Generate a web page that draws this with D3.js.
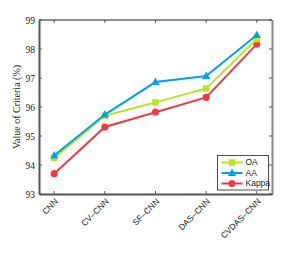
<!DOCTYPE html>
<html>
<head>
<meta charset="utf-8">
<script src="https://cdn.jsdelivr.net/npm/d3@7"></script>
<style>
  body { margin: 0; background: #fff; }
  svg { display: block; }
</style>
</head>
<body>
<svg id="chart"></svg>
<script>
const methods = ['CNN', 'CV–CNN', 'SF–CNN', 'DAS–CNN', 'CVDAS–CNN'];
const oaValues = [94.24, 95.70, 96.16, 96.64, 98.34];
const aaValues = [94.33, 95.74, 96.86, 97.07, 98.48];
const kappaValues = [93.70, 95.31, 95.82, 96.33, 98.17];
const yTicks = [93, 94, 95, 96, 97, 98, 99];

const series = [
  { name: 'OA', values: oaValues, color: '#b5e61d', marker: 'square' },
  { name: 'AA', values: aaValues, color: '#00a2e8', marker: 'triangle' },
  { name: 'Kappa', values: kappaValues, color: '#ee3b48', marker: 'circle' },
];

const width = 300;
const height = 273;
const margin = { top: 20, right: 28, bottom: 79, left: 39 };
const innerW = width - margin.left - margin.right;
const innerH = height - margin.top - margin.bottom;

const svg = d3.select('#chart').attr('width', width).attr('height', height);
const g = svg.append('g').attr('transform', `translate(${margin.left},${margin.top})`);

const x = d3.scalePoint().domain(methods).range([0, innerW]).padding(0.3);
const y = d3.scaleLinear().domain([93, 99]).range([innerH, 0]);

// frame
g.append('line').attr('x1', 0).attr('x2', innerW).attr('y1', 0).attr('y2', 0)
  .attr('stroke', '#222').attr('stroke-width', 1);
g.append('line').attr('x1', innerW + 0.5).attr('x2', innerW + 0.5).attr('y1', 0).attr('y2', innerH + 1)
  .attr('stroke', '#888').attr('stroke-width', 2);

// ticks inside (left, right, top, bottom)
const tickLen = 3;
yTicks.forEach(t => {
  g.append('line').attr('x1', 0).attr('x2', tickLen).attr('y1', y(t)).attr('y2', y(t))
    .attr('stroke', '#333').attr('stroke-width', 0.8);
  g.append('line').attr('x1', innerW - tickLen).attr('x2', innerW).attr('y1', y(t)).attr('y2', y(t))
    .attr('stroke', '#333').attr('stroke-width', 0.8);
});
methods.forEach(m => {
  g.append('line').attr('x1', x(m)).attr('x2', x(m)).attr('y1', 0).attr('y2', tickLen)
    .attr('stroke', '#333').attr('stroke-width', 0.8);
  g.append('line').attr('x1', x(m)).attr('x2', x(m)).attr('y1', innerH).attr('y2', innerH - tickLen)
    .attr('stroke', '#333').attr('stroke-width', 0.8);
});

// left axis
const yAxis = g.append('g')
  .call(d3.axisLeft(y).tickValues(yTicks).tickSize(0).tickPadding(4).tickFormat(d3.format('d')));
yAxis.select('.domain').attr('stroke', '#555').attr('stroke-width', 2);
yAxis.selectAll('text')
  .attr('font-family', '"Liberation Serif", "DejaVu Serif", serif')
  .attr('font-size', 9.5).attr('fill', '#222');

// bottom axis
const xAxis = g.append('g').attr('transform', `translate(0,${innerH})`)
  .call(d3.axisBottom(x).tickSize(0).tickPadding(0));
xAxis.select('.domain').attr('stroke', '#555').attr('stroke-width', 2);
xAxis.selectAll('text')
  .attr('font-family', '"Liberation Sans", Arial, sans-serif')
  .attr('font-size', 8.5).attr('fill', '#222')
  .attr('text-anchor', 'end')
  .attr('dy', 0)
  .attr('transform', 'translate(4,8) rotate(-45)');

// y label
svg.append('text')
  .attr('transform', `translate(20, ${margin.top + innerH / 2}) rotate(-90)`)
  .attr('text-anchor', 'middle')
  .attr('font-family', '"Liberation Serif", "DejaVu Serif", serif')
  .attr('font-size', 10).attr('fill', '#222')
  .text('Value of Criteria (%)');

const line = d3.line().x((d, i) => x(methods[i])).y(d => y(d));

function drawMarker(sel, type, color, cx, cy) {
  if (type === 'square') {
    sel.append('rect').attr('x', cx - 3.2).attr('y', cy - 3.2).attr('width', 6.4).attr('height', 6.4)
      .attr('fill', color);
  } else if (type === 'triangle') {
    sel.append('path').attr('d', `M${cx},${cy - 4.5}L${cx + 4.2},${cy + 3}L${cx - 4.2},${cy + 3}Z`)
      .attr('fill', color);
  } else {
    sel.append('circle').attr('cx', cx).attr('cy', cy).attr('r', 3.6).attr('fill', color);
  }
}

// draw Kappa first, then OA, AA on top like reference
[series[2], series[0], series[1]].forEach(s => {
  g.append('path').datum(s.values).attr('d', line)
    .attr('fill', 'none').attr('stroke', s.color).attr('stroke-width', 2);
  s.values.forEach((v, i) => drawMarker(g, s.marker, s.color, x(methods[i]), y(v)));
});

// legend
const legend = g.append('g').attr('transform', `translate(${217.5 - margin.left},${155.5 - margin.top})`);
legend.append('rect').attr('width', 51).attr('height', 34.5)
  .attr('fill', '#fff').attr('stroke', '#222').attr('stroke-width', 0.8);
series.forEach((s, i) => {
  const ly = 7 + i * 10.5;
  legend.append('line').attr('x1', 4).attr('x2', 25).attr('y1', ly).attr('y2', ly)
    .attr('stroke', s.color).attr('stroke-width', 2);
  drawMarker(legend, s.marker, s.color, 14.5, ly);
  legend.append('text').attr('x', 28).attr('y', ly).attr('dy', '0.35em')
    .attr('font-family', '"Liberation Sans", Arial, sans-serif')
    .attr('font-size', 8.5).attr('fill', '#222').text(s.name);
});
</script>
</body>
</html>
